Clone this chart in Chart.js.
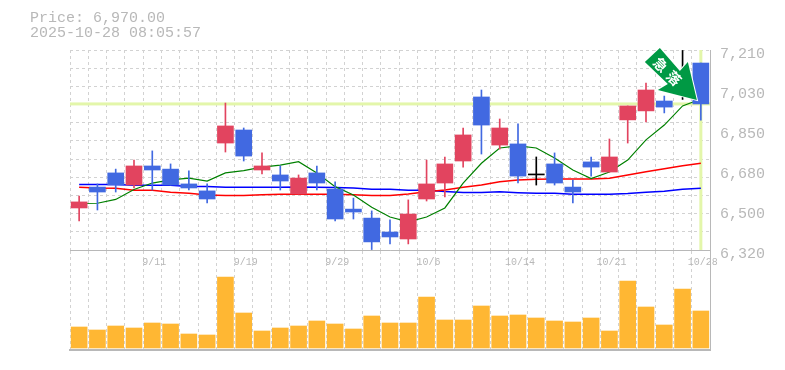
<!DOCTYPE html>
<html>
<head>
<meta charset="utf-8">
<style>
  html, body { margin: 0; padding: 0; background: #fff; overflow: hidden; }
  canvas { position: absolute; left: 0; }
  #volChart { top: 250px; }
  #priceChart { top: 0; }
</style>
<script src="https://cdn.jsdelivr.net/npm/chart.js@4"></script>
</head>
<body>
<canvas id="volChart" width="785" height="110"></canvas>
<canvas id="priceChart" width="785" height="275"></canvas>
<script>
const dates = ["9/5","9/8","9/9","9/10","9/11","9/12","9/16","9/17","9/18","9/19","9/22","9/24","9/25","9/26","9/29","9/30","10/1","10/2","10/3","10/6","10/7","10/8","10/9","10/10","10/14","10/15","10/16","10/17","10/20","10/21","10/22","10/23","10/24","10/27","10/28"];

const opens  = [6507,6600,6663,6609,6694,6680,6614,6583,6796,6854,6676,6654,6569,6663,6591,6502,6462,6400,6369,6547,6618,6716,7001,6787,6792,6654,6703,6600,6712,6667,6899,6939,6983,7054,7152];
const closes = [6534,6578,6609,6694,6676,6609,6596,6547,6872,6738,6694,6627,6640,6618,6458,6489,6356,6378,6480,6614,6703,6832,6876,6863,6649,6654,6618,6578,6689,6734,6961,7032,6956,7054,6970];
const highs  = [6560,6614,6680,6720,6761,6703,6672,6614,6974,6863,6752,6694,6654,6694,6623,6551,6494,6454,6543,6720,6734,6863,7032,6903,6881,6734,6752,6631,6734,6814,6961,7063,7005,7208,7152];
const lows   = [6449,6498,6578,6596,6587,6609,6587,6529,6756,6716,6658,6587,6569,6587,6449,6458,6322,6347,6347,6538,6556,6689,6747,6769,6618,6609,6609,6529,6649,6667,6796,6890,6930,6990,6898];

const maShort = [6527,6528,6545,6589,6618,6632,6640,6627,6663,6673,6689,6698,6713,6663,6602,6565,6510,6467,6445,6467,6507,6618,6706,6774,6783,6774,6729,6676,6638,6667,6720,6810,6876,6961,6992];
const maMid   = [6599,6596,6595,6586,6586,6577,6572,6565,6563,6563,6566,6568,6568,6568,6568,6566,6563,6563,6569,6579,6587,6599,6609,6624,6632,6635,6636,6636,6636,6639,6654,6668,6682,6695,6706];
const maLong  = [6612,6612,6612,6608,6608,6608,6603,6603,6599,6599,6599,6599,6600,6599,6598,6596,6590,6590,6586,6586,6580,6576,6576,6579,6575,6572,6572,6568,6568,6568,6571,6577,6581,6590,6595];

const volumes = [210000,180000,220000,200000,250000,240000,140000,130000,710000,350000,170000,200000,220000,270000,240000,190000,320000,250000,250000,510000,280000,280000,420000,320000,330000,300000,270000,260000,300000,170000,670000,410000,230000,590000,370000];

const yTickValues = [7210,7032,6854,6676,6498,6320];
const yTickLabels = ["7,210","7,030","6,850","6,680","6,500","6,320"];

const currentPrice = 6970;
const titleLines = ["Price: 6,970.00","2025-10-28 08:05:57"];
const arrowLabel = ["急","落"];

const GREY = "#b8b8b8";
const GRID = "#d2d2d2";
const MONO = "'Liberation Mono', monospace";

const candleColors = opens.map(function(o, i) {
  if (closes[i] > o) return "#e2445f";
  if (closes[i] < o) return "#4169e1";
  return "#000000";
});

// current price cross, sits under the candles
const priceCross = {
  id: "priceCross",
  beforeDatasetsDraw(chart) {
    const a = chart.chartArea;
    const y = chart.scales.y.getPixelForValue(currentPrice);
    const x = chart.scales.x.getPixelForValue(dates.length - 1);
    const c = chart.ctx;
    c.save();
    c.fillStyle = "#e3f6aa";
    c.fillRect(a.left, y - 1.5, a.right - a.left, 3);
    c.fillRect(x - 1.5, a.top, 3, a.bottom - a.top);
    c.restore();
  }
};

// green arrow pointing at the last candle
const arrowMark = {
  id: "arrowMark",
  afterDatasetsDraw(chart) {
    const x0 = chart.scales.x.getPixelForValue(dates.length - 1);
    const y0 = chart.scales.y.getPixelForValue(currentPrice);
    const shape = [[-41,-56],[-56,-42],[-33,-20],[-43,-14],[-4,-4],[-13,-42],[-21,-33]];
    const c = chart.ctx;
    c.save();
    c.beginPath();
    shape.forEach(function(p, i) {
      if (i == 0) c.moveTo(x0 + p[0], y0 + p[1]);
      else c.lineTo(x0 + p[0], y0 + p[1]);
    });
    c.closePath();
    c.lineWidth = 2;
    c.strokeStyle = "#ffffff";
    c.stroke();
    c.fillStyle = "#009944";
    c.fill();
    c.translate(x0 - 33.5, y0 - 32.5);
    c.rotate(Math.PI / 4);
    c.fillStyle = "#ffffff";
    c.font = "bold 14px 'Noto Sans CJK JP'";
    c.textAlign = "center";
    c.textBaseline = "middle";
    arrowLabel.forEach(function(t, i) {
      c.fillText(t, (i - 0.5) * 19, 0);
    });
    c.restore();
  }
};

new Chart(document.getElementById("volChart"), {
  type: "bar",
  data: {
    labels: dates,
    datasets: [{
      data: volumes,
      backgroundColor: "#ffb733",
      barThickness: 16,
      borderWidth: 0
    }]
  },
  options: {
    responsive: false,
    animation: false,
    layout: { padding: { left: 70, right: 0, top: 1, bottom: 10 } },
    plugins: { legend: { display: false }, tooltip: { enabled: false } },
    scales: {
      x: {
        offset: true,
        grid: { offset: true, color: GRID, drawTicks: false, tickLength: 0 },
        border: { color: GREY, width: 2, dash: [3, 3] },
        ticks: { display: false }
      },
      y: {
        position: "right",
        min: -20000,
        max: 970000,
        afterFit(axis) { axis.width = 75; },
        grid: { display: false, drawTicks: false },
        border: { color: GREY, width: 1 },
        ticks: { display: false }
      }
    }
  }
});

new Chart(document.getElementById("priceChart"), {
  type: "bar",
  plugins: [priceCross, arrowMark],
  data: {
    labels: dates,
    datasets: [
      { type: "line", data: maLong, borderColor: "#0000ff", borderWidth: 1.5, pointRadius: 0, order: 5 },
      { type: "line", data: maMid, borderColor: "#ff0000", borderWidth: 1.5, pointRadius: 0, order: 4 },
      { type: "line", data: maShort, borderColor: "#008000", borderWidth: 1.2, pointRadius: 0, order: 3 },
      {
        data: lows.map(function(l, i) { return [l, highs[i]]; }),
        backgroundColor: candleColors,
        barThickness: 1,
        grouped: false,
        order: 2
      },
      {
        data: opens.map(function(o, i) { return [o, closes[i]]; }),
        backgroundColor: candleColors,
        barThickness: 16,
        minBarLength: 1,
        grouped: false,
        order: 1
      }
    ]
  },
  options: {
    responsive: false,
    animation: false,
    layout: { padding: { left: 30, right: 0, top: 0, bottom: 0 } },
    plugins: {
      legend: { display: false },
      tooltip: { enabled: false },
      title: {
        display: true,
        text: titleLines,
        align: "start",
        color: GREY,
        font: { family: MONO, size: 15, weight: "normal", lineHeight: 1 },
        padding: { top: 11, bottom: 9 }
      }
    },
    scales: {
      x: {
        offset: true,
        grid: { offset: true, color: GRID, drawTicks: false, tickLength: 0 },
        border: { color: GREY, width: 1, dash: [3, 3] },
        afterFit(axis) { axis.height = 25; },
        ticks: {
          autoSkip: false,
          maxRotation: 0,
          padding: 6,
          labelOffset: 2,
          color: GREY,
          font: { family: MONO, size: 10 },
          callback(value, i) { return i % 5 == 4 ? dates[i] : ""; }
        }
      },
      y: {
        position: "right",
        min: 6320,
        max: 7210,
        afterBuildTicks(axis) { axis.ticks = yTickValues.map(function(v) { return { value: v }; }); },
        afterFit(axis) { axis.width = 75; },
        grid: { display: false, drawTicks: false },
        border: { color: GREY, width: 1 },
        ticks: {
          padding: 10,
          labelOffset: 4,
          color: GREY,
          font: { family: MONO, size: 15 },
          callback(value, i) { return yTickLabels[i]; }
        }
      },
      yGrid: {
        position: "left",
        min: 6320,
        max: 7210,
        afterFit(axis) { axis.width = 40; },
        grid: { color: GRID, drawTicks: false, tickLength: 0 },
        border: { display: false, dash: [3, 3] },
        ticks: { display: false, stepSize: 890 / 11, maxTicksLimit: 20 }
      }
    }
  }
});
</script>
</body>
</html>
